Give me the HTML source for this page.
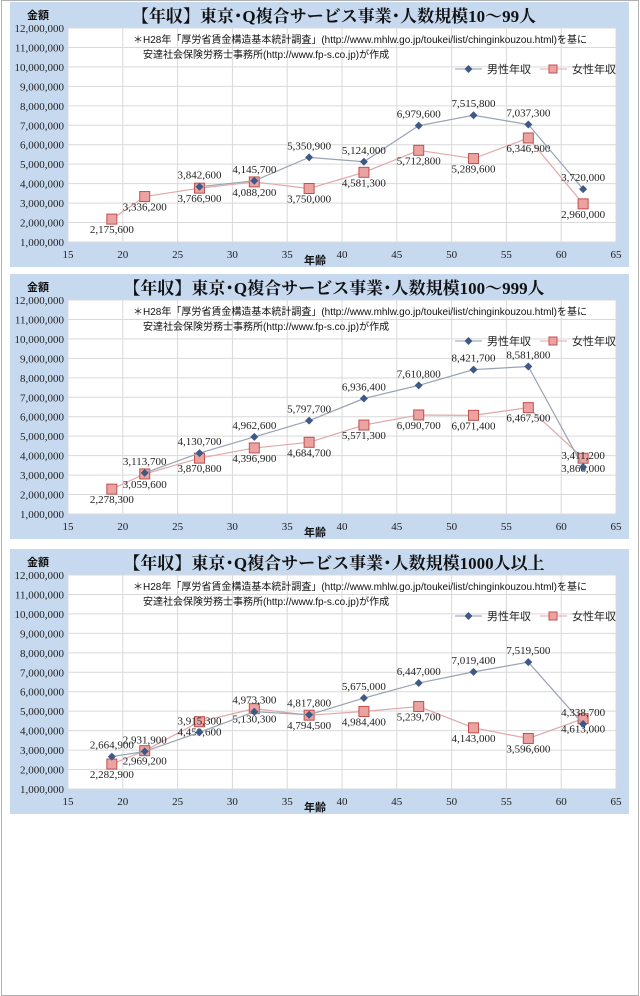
<!DOCTYPE html>
<html><head><meta charset="utf-8"><style>
html,body{margin:0;padding:0;background:#fff;}
svg{display:block;}
text{font-family:"Liberation Serif","Noto Serif CJK JP",serif;}
.sans{font-family:"Liberation Sans","Noto Sans CJK JP",sans-serif;}
</style></head><body>
<svg id="c" width="640" height="996" viewBox="0 0 640 996" xmlns="http://www.w3.org/2000/svg">
<rect x="1.5" y="0.5" width="637" height="995" fill="#fff" stroke="#b0b0b0"/>
</svg>
<script>
const ages = [19,22,27,32,37,42,47,52,57,62];
const titles = ["【年収】東京･Q複合サービス事業･人数規模10～99人","【年収】東京･Q複合サービス事業･人数規模100～999人","【年収】東京･Q複合サービス事業･人数規模1000人以上"];
const male1 = [null,null,3842600,4145700,5350900,5124000,6979600,7515800,7037300,3720000];
const female1 = [2175600,3336200,3766900,4088200,3750000,4581300,5712800,5289600,6346900,2960000];
const male2 = [null,3113700,4130700,4962600,5797700,6936400,7610800,8421700,8581800,3411200];
const female2 = [2278300,3059600,3870800,4396900,4684700,5571300,6090700,6071400,6467500,3866000];
const male3 = [2664900,2931900,3915300,4973300,4817800,5675000,6447000,7019400,7519500,4338700];
const female3 = [2282900,2969200,4459600,5130300,4794500,4984400,5239700,4143000,3596600,4613000];
const yTicks = [1000000,2000000,3000000,4000000,5000000,6000000,7000000,8000000,9000000,10000000,11000000,12000000];
const xTicks = [15,20,25,30,35,40,45,50,55,60,65];
const panels = [{t:titles[0],m:male1,f:female1},{t:titles[1],m:male2,f:female2},{t:titles[2],m:male3,f:female3}];
const panelTops = [2,274,549];

const NS="http://www.w3.org/2000/svg";
const svg=document.getElementById('c');
function el(tag,attrs,parent,txt){const e=document.createElementNS(NS,tag);for(const k in attrs)e.setAttribute(k,attrs[k]);if(txt!==undefined)e.textContent=txt;(parent||svg).appendChild(e);return e;}
const fmt=v=>v.toLocaleString('en-US');

panels.forEach((p,pi)=>{
  const top=panelTops[pi];
  const g=el('g',{});
  
  
  const L=68,R=616,T=top+26,B=top+240;
  const xs=v=>L+(v-15)/50*(R-L);
  const ys=v=>B-(v-1000000)/11000000*(B-T);
  const bg=el('rect',{x:10,y:top,width:619,height:265,fill:'#c6d9ef'},g);
  
  
  const pa=el('rect',{x:L,y:T,width:R-L,height:B-T,fill:'#fff'},g);
  
  
  yTicks.forEach(v=>{
    const ln=el('line',{x1:L,x2:R,y1:ys(v),y2:ys(v),stroke:'#d9d9d9','stroke-width':1},g);
    
    
    const t=el('text',{x:L-4,y:ys(v)+4,'text-anchor':'end','font-size':11,fill:'#222'},g,fmt(v));
    
    
  });
  xTicks.forEach(v=>{
    const ln=el('line',{x1:xs(v),x2:xs(v),y1:T,y2:B,stroke:'#d9d9d9','stroke-width':1},g);
    
    
    const t=el('text',{x:xs(v),y:B+16,'text-anchor':'middle','font-size':11,fill:'#222'},g,String(v));
    
    
  });
  const tt=el('text',{x:334,y:top+20,'text-anchor':'middle','font-size':17,'font-weight':'bold',fill:'#111'},g,p.t);
  
  
  const ya=el('text',{x:38,y:top+17,'text-anchor':'middle','font-size':11,'font-weight':'bold',fill:'#111',class:'sans'},g,'金額');
  
  
  const xa=el('text',{x:315,y:top+262,'text-anchor':'middle','font-size':11,'font-weight':'bold',fill:'#111',class:'sans'},g,'年齢');
  
  
  const n1=el('text',{x:133,y:top+41,'font-size':10,fill:'#111',class:'sans'},g,'＊H28年「厚労省賃金構造基本統計調査」(http://www.mhlw.go.jp/toukei/list/chinginkouzou.html)を基に');
  
  
  const n2=el('text',{x:143,y:top+56,'font-size':10,fill:'#111',class:'sans'},g,'安達社会保険労務士事務所(http://www.fp-s.co.jp)が作成');
  
  
  // legend
  const ly=top+67;
  const lm=el('line',{x1:455,x2:482,y1:ly,y2:ly,stroke:'#8e9bb0'},g);
  
  
  const ld=el('path',{d:`M468.5 ${ly-4} l4 4 l-4 4 l-4 -4z`,fill:'#3d5a86'},g);
  
  
  const lt=el('text',{x:487,y:ly+4,'font-size':11,fill:'#222',class:'sans'},g,'男性年収');
  
  
  const lf=el('line',{x1:540,x2:567,y1:ly,y2:ly,stroke:'#e0a8a8'},g);
  
  
  const ls=el('rect',{x:549,y:ly-4,width:8,height:8,fill:'#eba3a1',stroke:'#c0504d'},g);
  
  
  const lt2=el('text',{x:572,y:ly+4,'font-size':11,fill:'#222',class:'sans'},g,'女性年収');
  
  
  // series
  [[p.f,'female','#e0a8a8',14],[p.m,'male','#9aa3b3',-8]].forEach(([arr,nm,col,dy])=>{
    const pts=[];arr.forEach((v,i)=>{if(v!==null)pts.push([xs(ages[i]),ys(v),v]);});
    const pl=el('polyline',{points:pts.map(q=>q[0]+','+q[1]).join(' '),fill:'none',stroke:col,'stroke-width':1.2},g);
    
    
    pts.forEach(q=>{
      let mk;
      if(nm==='male') mk=el('path',{d:`M${q[0]} ${q[1]-4} l4 4 l-4 4 l-4 -4z`,fill:'#3d5a86'},g);
      else mk=el('rect',{x:q[0]-5,y:q[1]-5,width:10,height:10,fill:'#eba3a1',stroke:'#c0504d'},g);
      
      
      const lb=el('text',{x:q[0],y:q[1]+dy,'text-anchor':'middle','font-size':11,fill:'#222'},g,fmt(q[2]));
      
      
    });
  });
});
</script>
</body></html>
